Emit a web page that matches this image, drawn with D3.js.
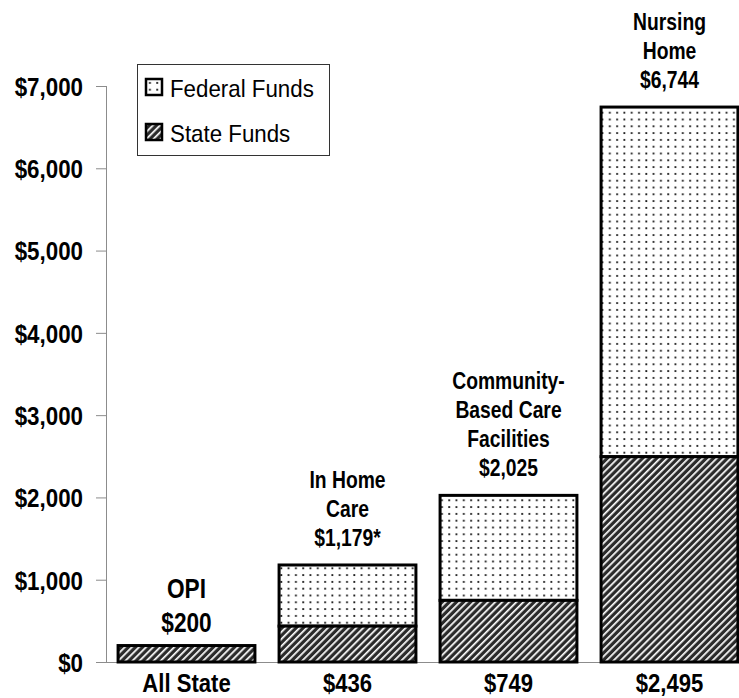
<!DOCTYPE html>
<html>
<head>
<meta charset="utf-8">
<script src="https://cdn.jsdelivr.net/npm/d3@7"></script>
<style>
  body { margin: 0; background: #fff; }
  svg { display: block; }
  text { font-family: 'Liberation Sans', Arial, sans-serif; fill: #000; }
</style>
</head>
<body>
<svg id="chart"></svg>
<script>
// values
const categories = ['OPI', 'In Home Care', 'Community-Based Care Facilities', 'Nursing Home']
const stateFunds = [200, 436, 749, 2495]
const federalFunds = [0, 743, 1276, 4249]
const totalLabels = [
	['OPI', '$200'],
	['In Home', 'Care', '$1,179*'],
	['Community-', 'Based Care', 'Facilities', '$2,025'],
	['Nursing', 'Home', '$6,744']
]
const bottomLabels = ['All State', '$436', '$749', '$2,495']
const yTicks = [0, 1000, 2000, 3000, 4000, 5000, 6000, 7000]
const legendLabels = ['Federal Funds', 'State Funds']

const outerWidth = 739
const outerHeight = 698

const svg = d3.select('#chart')
	.attr('width', outerWidth)
	.attr('height', outerHeight)

// condensed look: squeeze the text horizontally
function squeeze(sel, x, y, s) {
	sel.attr('x', 0).attr('y', 0)
		.attr('transform', (d, i) => `translate(${typeof x === 'function' ? x(d, i) : x},${typeof y === 'function' ? y(d, i) : y}) scale(${s},1)`)
}

// patterns
const defs = svg.append('defs')
const dots = defs.append('pattern')
	.attr('id', 'dots')
	.attr('patternUnits', 'userSpaceOnUse')
	.attr('width', 7.3)
	.attr('height', 6.8)
dots.append('rect').attr('width', 7.3).attr('height', 6.8).attr('fill', '#fff')
dots.append('rect').attr('x', 3).attr('y', 3).attr('width', 1.8).attr('height', 1.8).attr('fill', '#111')

const stripes = defs.append('pattern')
	.attr('id', 'stripes')
	.attr('patternUnits', 'userSpaceOnUse')
	.attr('width', 5)
	.attr('height', 10)
	.attr('patternTransform', 'rotate(45)')
stripes.append('rect').attr('width', 5).attr('height', 10).attr('fill', '#2b2b2b')
stripes.append('rect').attr('x', 0).attr('width', 1.7).attr('height', 10).attr('fill', '#fff')

const xScale = d3.scaleBand()
	.domain(categories)
	.range([106, 750])
	.paddingInner(0.15)
	.paddingOuter(0.075)

const yScale = d3.scaleLinear()
	.domain([0, 7000])
	.range([662, 86])

// y axis
const yAxis = d3.axisLeft(yScale)
	.tickValues(yTicks)
	.tickSize(10)
	.tickPadding(12)
	.tickFormat(d => '$' + d3.format(',')(d))

const yAxisGroup = svg.append('g')
	.attr('transform', 'translate(106,0)')
	.call(yAxis)
yAxisGroup.select('.domain').attr('stroke', '#8c8c8c').attr('d', `M0.5,${yScale(7000)}V${yScale(0)}`)
yAxisGroup.selectAll('.tick line').attr('stroke', '#8c8c8c')
yAxisGroup.selectAll('.tick text')
	.attr('font-size', 26)
	.attr('font-weight', 'bold')
	.attr('font-family', "'Liberation Sans', Arial, sans-serif")
	.attr('dy', '0.36em')
	.call(squeeze, -23, 0, 0.86)

// baseline
svg.append('line')
	.attr('x1', 96).attr('x2', outerWidth)
	.attr('y1', yScale(0) + 0.5).attr('y2', yScale(0) + 0.5)
	.attr('stroke', '#8c8c8c')

// bars
const barData = categories.map((c, i) => ({
	key: c,
	state: stateFunds[i],
	federal: federalFunds[i],
	total: stateFunds[i] + federalFunds[i]
}))

const bars = svg.append('g').selectAll('g')
	.data(barData)
	.join('g')

bars.filter(d => d.federal > 0).append('rect')
	.attr('x', d => xScale(d.key))
	.attr('y', d => yScale(d.total))
	.attr('width', xScale.bandwidth())
	.attr('height', d => yScale(d.state) - yScale(d.total))
	.attr('fill', 'url(#dots)')
	.attr('stroke', '#000')
	.attr('stroke-width', 3)

bars.append('rect')
	.attr('x', d => xScale(d.key))
	.attr('y', d => yScale(d.state))
	.attr('width', xScale.bandwidth())
	.attr('height', d => yScale(0) - yScale(d.state))
	.attr('fill', 'url(#stripes)')
	.attr('stroke', '#000')
	.attr('stroke-width', 3)

// labels above the bars
bars.each(function(d, i) {
	const lines = totalLabels[i]
	const big = i === 0
	const lineH = big ? 34 : 29
	const last = yScale(d.total) - (big ? 14 : 19)
	const cx = xScale(d.key) + xScale.bandwidth() / 2
	d3.select(this).selectAll('text.top')
		.data(lines)
		.join('text')
		.attr('class', 'top')
		.attr('text-anchor', 'middle')
		.attr('font-size', big ? 27 : 23)
		.attr('font-weight', 'bold')
		.text(t => t)
		.call(squeeze, cx, (t, j) => last - (lines.length - 1 - j) * lineH, 0.84)
})

// labels below the bars
svg.append('g').selectAll('text')
	.data(categories)
	.join('text')
	.attr('text-anchor', 'middle')
	.attr('font-size', 26)
	.attr('font-weight', 'bold')
	.text((d, i) => bottomLabels[i])
	.call(squeeze, d => xScale(d) + xScale.bandwidth() / 2, 692, 0.85)

// legend
const legend = svg.append('g')
legend.append('rect')
	.attr('x', 137.5).attr('y', 64.5)
	.attr('width', 192).attr('height', 91)
	.attr('fill', '#fff')
	.attr('stroke', '#333')
	.attr('stroke-width', 1)

const legendItems = legend.selectAll('g.item')
	.data(legendLabels)
	.join('g')
	.attr('class', 'item')
	.attr('transform', (d, i) => `translate(146, ${79 + i * 45})`)

legendItems.append('rect')
	.attr('width', 16).attr('height', 16)
	.attr('fill', (d, i) => i === 0 ? 'url(#dots)' : 'url(#stripes)')
	.attr('stroke', '#000')
	.attr('stroke-width', 2.5)

legendItems.append('text')
	.attr('font-size', 24)
	.text(d => d)
	.call(squeeze, 24, 18, 0.93)
</script>
</body>
</html>
